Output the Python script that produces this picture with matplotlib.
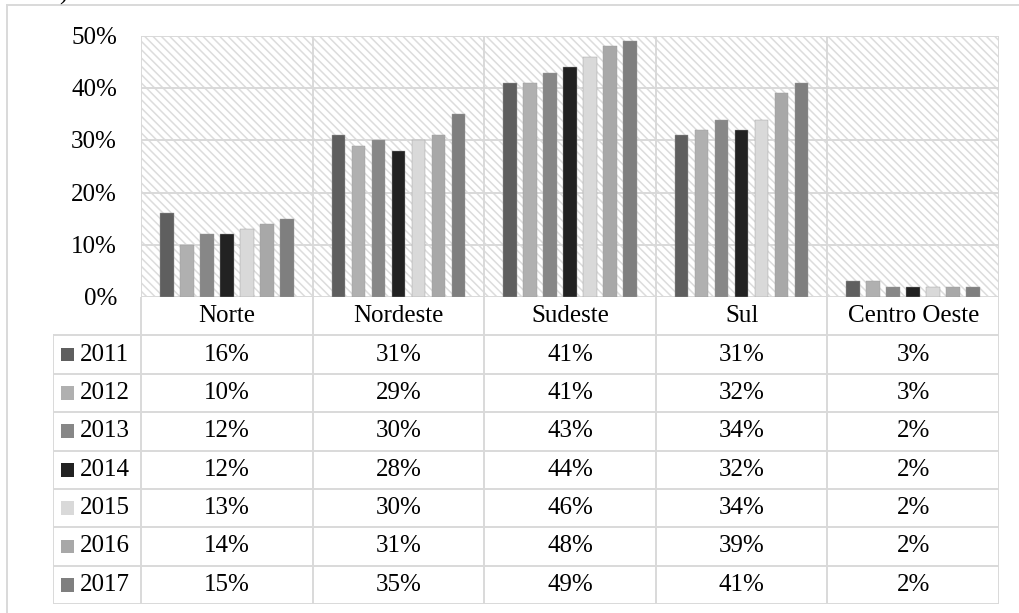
import matplotlib.pyplot as plt
from matplotlib.patches import Rectangle

plt.rcParams['font.family'] = ['Liberation Serif', 'DejaVu Serif']

regions = ['Norte', 'Nordeste', 'Sudeste', 'Sul', 'Centro Oeste']
years = ['2011', '2012', '2013', '2014', '2015', '2016', '2017']
share = [
    [16, 31, 41, 31, 3],   # 2011
    [10, 29, 41, 32, 3],   # 2012
    [12, 30, 43, 34, 2],   # 2013
    [12, 28, 44, 32, 2],   # 2014
    [13, 30, 46, 34, 2],   # 2015
    [14, 31, 48, 39, 2],   # 2016
    [15, 35, 49, 41, 2],   # 2017
]
yticks = [0, 10, 20, 30, 40, 50]

colors = ['#5f5f5f', '#b0b0b0', '#878787', '#222222', '#d9d9d9', '#a8a8a8', '#7f7f7f']
grid = '#d9d9d9'
fs = 18

W, H = 1020, 613
fig = plt.figure(figsize=(W / 100, H / 100), dpi=100)

# outer chart frame
fig.add_artist(plt.Line2D([7 / W, 7 / W], [0, 1 - 5 / H], color=grid, lw=1.4))
fig.add_artist(plt.Line2D([7 / W, 1], [1 - 5 / H, 1 - 5 / H], color=grid, lw=1.4))
fig.text(63 / W, 1.0, ')', fontsize=fs, va='baseline', ha='center')

# plot area
left, right, top, bottom = 141, 999, 36, 297
ax = fig.add_axes([left / W, 1 - bottom / H, (right - left) / W, (bottom - top) / H])
ax.set_xlim(0, 5)
ax.set_ylim(0, 50)
ax.axis('off')
plt.rcParams['hatch.linewidth'] = 1.1
ax.add_patch(Rectangle((0, 0), 5, 50, facecolor='white', edgecolor='#dcdcdc',
                       linewidth=0, hatch='\\\\\\\\', zorder=0))
for t in yticks:
    ax.axhline(t, color=grid, lw=1.4, zorder=1)
for k in range(6):
    ax.axvline(k, color=grid, lw=1.4, zorder=1)

pitch, bw = 0.1165, 0.079
for j, yr in enumerate(years):
    xs = [i + 0.5 + (j - 3) * pitch for i in range(len(regions))]
    ax.bar(xs, share[j], width=bw, color=colors[j], edgecolor='#9a9a9a',
           linewidth=0.3, zorder=2)

for t in yticks:
    fig.text(117 / W, 1 - (top + (bottom - top) * (50 - t) / 50 + 2) / H, f'{t}%',
             fontsize=fs, ha='right', va='center')

# data table under the plot
tleft, tbottom = 53, 604
col0 = (left - tleft) / ((right - left) / 5)
tab = fig.add_axes([tleft / W, 1 - tbottom / H, (right - tleft) / W, (tbottom - bottom) / H])
tab.set_xlim(-col0, 5)
tab.set_ylim(8, 0)
tab.axis('off')
for r in range(1, 9):
    tab.plot([-col0, 5], [r, r], color=grid, lw=1.4, solid_capstyle='butt')
tab.plot([-col0, -col0], [1, 8], color=grid, lw=1.4)
for k in range(6):
    tab.plot([k, k], [0, 8], color=grid, lw=1.4)

for i, name in enumerate(regions):
    tab.text(i + 0.5, 0.5, name, fontsize=fs, ha='center', va='center')
for j, yr in enumerate(years):
    tab.add_patch(Rectangle((-col0 + 0.048, j + 1.5 - 0.18), 0.076, 0.36,
                            facecolor=colors[j], edgecolor='none'))
    tab.text(-col0 + 0.155, j + 1.5, yr, fontsize=fs, ha='left', va='center')
    for i in range(len(regions)):
        tab.text(i + 0.5, j + 1.5, f'{share[j][i]}%', fontsize=fs, ha='center', va='center')

fig.savefig('out.png', dpi=100)
